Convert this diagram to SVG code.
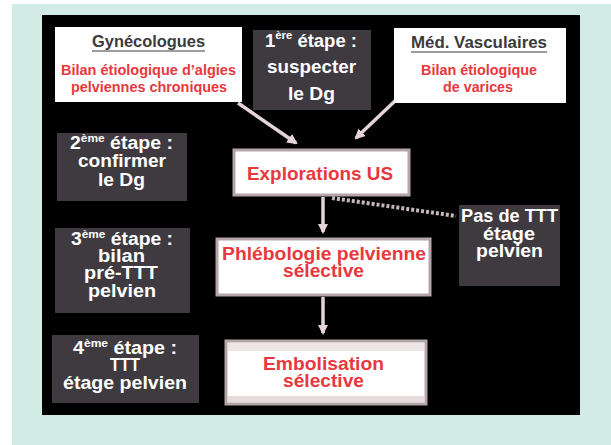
<svg xmlns="http://www.w3.org/2000/svg" width="611" height="445" viewBox="0 0 611 445">
<defs>
<style>
text{font-family:"Liberation Sans Narrow","Liberation Sans",Arial,sans-serif;font-weight:bold;text-anchor:middle}
.step{fill:#3e3a3f}
.stxt{fill:#ffffff;font-size:18px}
.wbox{fill:#ffffff}
.sbox{fill:#ffffff;stroke:#b3a5a8;stroke-width:3}
.red{fill:#e8383d}
.ttl{fill:#3c3a3b;font-size:16px}
.sup{font-size:11px}
.conn{stroke:#e4d3d8;stroke-width:3.5;fill:none}
.dot{stroke:#c4b6b9;stroke-width:4;stroke-dasharray:3 2;fill:none}
</style>
<marker id="ah" viewBox="0 0 10 10" refX="8" refY="5" markerWidth="3" markerHeight="3" orient="auto">
<path d="M0,0 L10,5 L0,10 z" fill="#e4d3d8"/>
</marker>
</defs>
<rect x="0" y="0" width="611" height="445" fill="#ffffff"/>
<rect x="12" y="4" width="599" height="441" fill="#d2ebe4"/>
<rect x="42" y="15" width="538" height="400" fill="#000000"/>

<g id="connectors">
<line class="conn" x1="238" y1="103" x2="296" y2="143" marker-end="url(#ah)"/>
<line class="conn" x1="396" y1="100" x2="356" y2="138" marker-end="url(#ah)"/>
<line class="conn" x1="323" y1="197" x2="323" y2="232" marker-end="url(#ah)"/>
<line class="dot" x1="332" y1="198" x2="456" y2="216"/>
<line class="conn" x1="323" y1="297" x2="323" y2="333" marker-end="url(#ah)"/>
</g>

<g id="gynecologues">
<rect class="wbox" x="55" y="27" width="187" height="75"/>
<text class="ttl" x="148.5" y="47" textLength="113" lengthAdjust="spacingAndGlyphs">Gynécologues</text>
<line x1="92" y1="51" x2="205" y2="51" stroke="#3c3a3b" stroke-width="1.2"/>
<text class="red" x="148.5" y="75" font-size="15" textLength="175" lengthAdjust="spacingAndGlyphs">Bilan étiologique d’algies</text>
<text class="red" x="149" y="92" font-size="15" textLength="156" lengthAdjust="spacingAndGlyphs">pelviennes chroniques</text>
</g>

<g id="etape1">
<rect class="step" x="253" y="30" width="118" height="80"/>
<text class="stxt" x="311" y="47" font-size="20" textLength="92" lengthAdjust="spacingAndGlyphs">1<tspan class="sup" dy="-8">ère</tspan><tspan dy="8"> étape :</tspan></text>
<text class="stxt" x="311.5" y="73" font-size="21" textLength="89" lengthAdjust="spacingAndGlyphs">suspecter</text>
<text class="stxt" x="311.5" y="100" font-size="21" textLength="47" lengthAdjust="spacingAndGlyphs">le Dg</text>
</g>

<g id="vasculaires">
<rect class="wbox" x="394" y="28" width="172" height="75"/>
<text class="ttl" x="479" y="48" textLength="136" lengthAdjust="spacingAndGlyphs">Méd. Vasculaires</text>
<line x1="411" y1="52" x2="547" y2="52" stroke="#3c3a3b" stroke-width="1.2"/>
<text class="red" x="479" y="75" font-size="15" textLength="116" lengthAdjust="spacingAndGlyphs">Bilan étiologique</text>
<text class="red" x="478" y="92" font-size="15" textLength="70" lengthAdjust="spacingAndGlyphs">de varices</text>
</g>

<g id="etape2">
<rect class="step" x="57" y="133" width="130" height="68"/>
<text class="stxt" x="121.5" y="149" textLength="103" lengthAdjust="spacingAndGlyphs">2<tspan class="sup" dy="-7">ème</tspan><tspan dy="7"> étape :</tspan></text>
<text class="stxt" x="122" y="167" textLength="88" lengthAdjust="spacingAndGlyphs">confirmer</text>
<text class="stxt" x="121.5" y="186" textLength="47" lengthAdjust="spacingAndGlyphs">le Dg</text>
</g>

<g id="etape3">
<rect class="step" x="55" y="228" width="135" height="85"/>
<text class="stxt" x="122" y="245" textLength="102" lengthAdjust="spacingAndGlyphs">3<tspan class="sup" dy="-7">ème</tspan><tspan dy="7"> étape :</tspan></text>
<text class="stxt" x="121.5" y="262" textLength="47" lengthAdjust="spacingAndGlyphs">bilan</text>
<text class="stxt" x="121" y="279" textLength="74" lengthAdjust="spacingAndGlyphs">pré-TTT</text>
<text class="stxt" x="122" y="297" textLength="68" lengthAdjust="spacingAndGlyphs">pelvien</text>
</g>

<g id="etape4">
<rect class="step" x="52" y="335" width="147" height="68"/>
<text class="stxt" x="125" y="354" textLength="104" lengthAdjust="spacingAndGlyphs">4<tspan class="sup" dy="-7">ème</tspan><tspan dy="7"> étape :</tspan></text>
<text class="stxt" x="125" y="371" textLength="30" lengthAdjust="spacingAndGlyphs">TTT</text>
<text class="stxt" x="125" y="389" textLength="124" lengthAdjust="spacingAndGlyphs">étage pelvien</text>
</g>

<g id="explorations">
<rect class="sbox" x="234" y="150" width="175" height="45"/>
<text class="red" x="320" y="180" font-size="19" textLength="146" lengthAdjust="spacingAndGlyphs">Explorations US</text>
</g>

<g id="pas-de-ttt">
<rect class="step" x="459" y="205" width="101" height="81"/>
<text class="stxt" x="509.5" y="222" textLength="97" lengthAdjust="spacingAndGlyphs">Pas de TTT</text>
<text class="stxt" x="509" y="240" textLength="52" lengthAdjust="spacingAndGlyphs">étage</text>
<text class="stxt" x="509.5" y="257" textLength="67" lengthAdjust="spacingAndGlyphs">pelvien</text>
</g>

<g id="phlebologie">
<rect class="sbox" x="217" y="239" width="213" height="56"/>
<text class="red" x="324" y="260" font-size="18" textLength="204" lengthAdjust="spacingAndGlyphs">Phlébologie pelvienne</text>
<text class="red" x="323.5" y="277" font-size="18" textLength="81" lengthAdjust="spacingAndGlyphs">sélective</text>
</g>

<g id="embolisation">
<rect x="226" y="341" width="200" height="63" fill="#ffffff" stroke="#b3a5a8" stroke-width="3"/>
<rect x="228" y="343" width="196" height="8" fill="#efe6e7"/>
<rect x="228" y="396" width="196" height="6" fill="#e6dcdd"/>
<text class="red" x="323.5" y="370" font-size="18" textLength="121" lengthAdjust="spacingAndGlyphs">Embolisation</text>
<text class="red" x="323.5" y="387" font-size="18" textLength="81" lengthAdjust="spacingAndGlyphs">sélective</text>
</g>
</svg>
